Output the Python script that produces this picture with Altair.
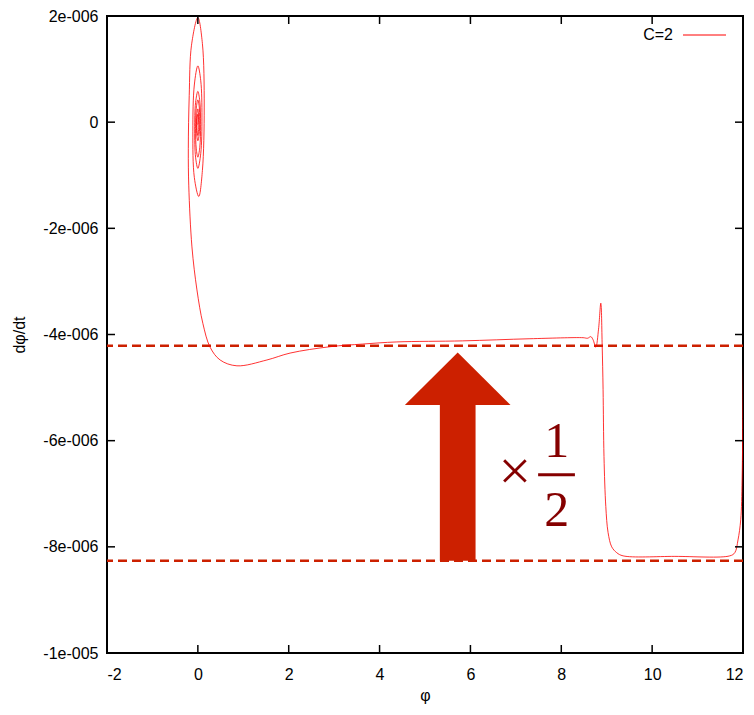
import altair as alt
import pandas as pd

# ---------------- data (y values in units of 1e-6) ----------------
traj_x = [0.0, 0.01, 0.0,
          -0.014, -0.02, -0.014, 0.0,
          0.014, 0.02, 0.014, 0.0,
          -0.021, -0.03, -0.021, 0.0,
          0.028, 0.04, 0.028, 0.0,
          -0.035, -0.05, -0.035, 0.0,
          0.042, 0.06, 0.042, 0.0,
          -0.05, -0.07, -0.05, 0.0,
          0.064, 0.09, 0.064, 0.0,
          -0.078, -0.11, -0.078, 0.02,
          0.10, 0.14, 0.10, 0.0,
          -0.14, -0.19, -0.21, -0.20, -0.13, -0.02, 0.11, 0.27, 0.49, 0.86,
          1.52, 2.03, 2.91, 3.63, 4.38, 5.83, 7.31, 8.48, 8.58, 8.65, 8.70,
          8.76, 8.82, 8.87, 8.90, 8.92, 8.94, 8.98, 9.03, 9.11, 9.22, 9.36,
          10.5, 11.71, 11.82, 11.89, 11.95, 11.98, 12.0, 12.02]
traj_y = [-0.05, 0.05, 0.15,
          0.092, -0.05, -0.192, -0.25,
          -0.177, 0.0, 0.177, 0.25,
          0.163, -0.05, -0.263, -0.35,
          -0.238, 0.035, 0.308, 0.42,
          0.263, -0.12, -0.503, -0.66,
          -0.48, -0.04, 0.40, 0.58,
          0.37, -0.145, -0.66, -0.87,
          -0.59, 0.095, 0.78, 1.06,
          0.70, -0.17, -1.04, -1.40,
          -0.91, 0.285, 1.48, 1.97,
          1.45, 0.5, -0.5, -1.2, -2.35, -3.16, -3.79, -4.24, -4.48, -4.59,
          -4.48, -4.35, -4.23, -4.18, -4.14, -4.12, -4.08, -4.06, -4.07, -4.04, -4.10,
          -4.24, -3.9, -3.41, -4.2, -5.04, -6.30, -7.24, -7.73, -8.00, -8.11, -8.17,
          -8.18, -8.17, -8.11, -7.87, -7.49, -6.74, -5.2, -4.0]

dash_levels = [-4.21, -8.26]
x_ticks = [-2, 0, 2, 4, 6, 8, 10, 12]
y_ticks = [-10, -8, -6, -4, -2, 0, 2]

# arrow annotation (data units)
arrow_center = 5.72
arrow_tip = -4.34
arrow_head_base = -5.33
arrow_bottom = -8.26
arrow_head_half = 1.163
arrow_shaft_half = 0.393

legend_label = ["C=2"]

E = 1e-6
W, H = 636, 637
FONT = "'Liberation Sans Narrow', 'Liberation Sans', Arial, sans-serif"
SERIF = "'Liberation Serif', 'DejaVu Serif', serif"
ARROW_COL = "#cc2000"
TEXT_COL = "#850000"

traj_df = pd.DataFrame({"x": traj_x, "y": [v * E for v in traj_y], "i": range(len(traj_x))})
dash_df = pd.DataFrame({"y": [v * E for v in dash_levels]})
xt_df = pd.DataFrame({"v": x_ticks})
yt_df = pd.DataFrame({"v": [v * E for v in y_ticks]})

shaft_df = pd.DataFrame({
    "x1": [arrow_center - arrow_shaft_half], "x2": [arrow_center + arrow_shaft_half],
    "y1": [arrow_bottom * E], "y2": [arrow_head_base * E]})
head_df = pd.DataFrame({
    "x": [arrow_center - arrow_head_half, arrow_center, arrow_center + arrow_head_half],
    "yb": [arrow_head_base * E] * 3,
    "yt": [arrow_head_base * E, arrow_tip * E, arrow_head_base * E]})

times_df = pd.DataFrame({"x": [6.98], "y": [-6.61 * E], "t": ["×"]})
frac_df = pd.DataFrame({"x": [7.90, 7.90], "y": [-6.30 * E, -7.60 * E], "t": ["1", "2"]})
bar_df = pd.DataFrame({"x1": [7.49], "x2": [8.30], "y": [-6.64 * E]})

xs = alt.Scale(domain=[-2, 12], nice=False, zero=False)
ys = alt.Scale(domain=[-10 * E, 2 * E], nice=False, zero=False)

xaxis = alt.Axis(values=x_ticks, tickSize=0, domain=False, grid=False,
                 labelExpr="(datum.value < 0 ? '-' : '') + format(abs(datum.value), 'd')",
                 labelPadding=13, titleY=42, titleBaseline="middle", titleFontWeight="normal")
yaxis = alt.Axis(values=[v * E for v in y_ticks], tickSize=0, domain=False, grid=False,
                 labelExpr="datum.value == 0 ? '0' : (datum.value < 0 ? '-' : '') + replace(format(abs(datum.value), '.0e'), 'e-', 'e-00')",
                 labelPadding=9, titleAngle=-90, titleX=-88, titleY=H / 2,
                 titleAlign="center", titleBaseline="middle", titleFontWeight="normal")

traj = alt.Chart(traj_df).mark_line(
    color="#ff0000", strokeWidth=1, interpolate="catmull-rom", clip=True, opacity=0.8
).encode(
    x=alt.X("x:Q", scale=xs, axis=xaxis, title="φ"),
    y=alt.Y("y:Q", scale=ys, axis=yaxis, title="dφ/dt"),
    order="i:Q",
)

dashes = alt.Chart(dash_df).mark_rule(color=ARROW_COL, strokeWidth=2.5, strokeDash=[9, 5]).encode(
    y=alt.Y("y:Q", scale=ys))

shaft = alt.Chart(shaft_df).mark_rect(color=ARROW_COL).encode(
    x=alt.X("x1:Q", scale=xs), x2="x2:Q", y=alt.Y("y1:Q", scale=ys), y2="y2:Q")
head = alt.Chart(head_df).mark_area(color=ARROW_COL, opacity=1).encode(
    x=alt.X("x:Q", scale=xs), y=alt.Y("yb:Q", scale=ys), y2="yt:Q")

times = alt.Chart(times_df).mark_text(font=SERIF, fontSize=58, color=TEXT_COL, baseline="middle").encode(
    x=alt.X("x:Q", scale=xs), y=alt.Y("y:Q", scale=ys), text="t:N")
frac = alt.Chart(frac_df).mark_text(font=SERIF, fontSize=50, color=TEXT_COL, baseline="alphabetic").encode(
    x=alt.X("x:Q", scale=xs), y=alt.Y("y:Q", scale=ys), text="t:N")
fbar = alt.Chart(bar_df).mark_rule(color=TEXT_COL, strokeWidth=3).encode(
    x=alt.X("x1:Q", scale=xs), x2="x2:Q", y=alt.Y("y:Q", scale=ys))

tick_b = alt.Chart(xt_df).mark_rule(color="black", strokeWidth=1.5).encode(
    x=alt.X("v:Q", scale=xs), y=alt.value(H), y2=alt.value(H - 8))
tick_t = alt.Chart(xt_df).mark_rule(color="black", strokeWidth=1.5).encode(
    x=alt.X("v:Q", scale=xs), y=alt.value(0), y2=alt.value(8))
tick_l = alt.Chart(yt_df).mark_rule(color="black", strokeWidth=1.5).encode(
    y=alt.Y("v:Q", scale=ys), x=alt.value(0), x2=alt.value(8))
tick_r = alt.Chart(yt_df).mark_rule(color="black", strokeWidth=1.5).encode(
    y=alt.Y("v:Q", scale=ys), x=alt.value(W), x2=alt.value(W - 8))

leg_text = alt.Chart(pd.DataFrame({"t": legend_label})).mark_text(
    align="right", baseline="middle", fontSize=16, font=FONT, color="black"
).encode(x=alt.value(566), y=alt.value(19), text="t:N")
leg_line = alt.Chart(pd.DataFrame({"t": legend_label})).mark_rule(color="#ff0000", strokeWidth=1).encode(
    x=alt.value(576), x2=alt.value(619), y=alt.value(19))

chart = alt.layer(
    dashes, traj, shaft, head, times, frac, fbar,
    tick_b, tick_t, tick_l, tick_r, leg_text, leg_line
).properties(
    width=W, height=H,
    autosize=alt.AutoSizeParams(type="none"),
    padding={"left": 99, "top": 8, "right": 3, "bottom": 54},
).configure_view(
    stroke="black", strokeWidth=2
).configure_axis(
    labelFont=FONT, labelFontSize=16, labelColor="black",
    titleFont=FONT, titleFontSize=16, titleColor="black",
)

chart.save("out.html", embed_options={"renderer": "svg", "actions": False})
